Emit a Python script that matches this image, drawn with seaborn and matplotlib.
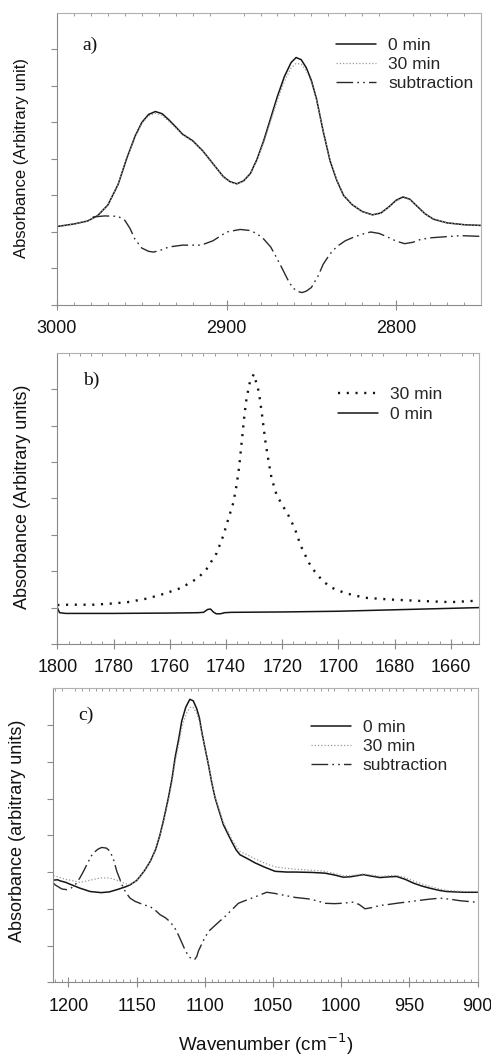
import matplotlib
matplotlib.use("Agg")
import matplotlib.pyplot as plt
from matplotlib.ticker import MultipleLocator
import seaborn as sns

# ---------------- a) C-H stretching region ----------------
wn_a = [3000, 2990, 2982, 2976, 2970, 2964, 2959, 2954, 2950, 2946, 2942, 2938,
        2934, 2930, 2926, 2920, 2914, 2908, 2902, 2898, 2894, 2890, 2886, 2882,
        2878, 2874, 2870, 2866, 2862, 2859, 2856, 2853, 2850, 2847, 2843, 2839,
        2835, 2831, 2826, 2820, 2814, 2809, 2804, 2800, 2796, 2792, 2788, 2783,
        2778, 2770, 2760, 2750]
a_0min = [2.15, 2.22, 2.30, 2.45, 2.74, 3.30, 4.00, 4.62, 5.00, 5.22, 5.30, 5.24,
          5.07, 4.88, 4.68, 4.50, 4.22, 3.87, 3.52, 3.38, 3.32, 3.40, 3.60, 4.00,
          4.52, 5.12, 5.72, 6.25, 6.64, 6.78, 6.72, 6.50, 6.15, 5.65, 4.75, 3.95,
          3.41, 3.00, 2.75, 2.56, 2.47, 2.52, 2.70, 2.87, 2.96, 2.90, 2.72, 2.50,
          2.35, 2.25, 2.20, 2.18]
a_30min = [2.15, 2.22, 2.30, 2.45, 2.74, 3.30, 3.98, 4.59, 4.97, 5.18, 5.25, 5.19,
           5.03, 4.85, 4.66, 4.48, 4.21, 3.86, 3.51, 3.37, 3.31, 3.39, 3.58, 3.97,
           4.47, 5.04, 5.62, 6.12, 6.49, 6.62, 6.60, 6.42, 6.10, 5.62, 4.76, 3.97,
           3.42, 3.01, 2.75, 2.56, 2.47, 2.51, 2.69, 2.85, 2.94, 2.89, 2.71, 2.50,
           2.35, 2.25, 2.20, 2.18]
wn_a_sub = [2979, 2972, 2964, 2960, 2957, 2954, 2950, 2946, 2943, 2939, 2934, 2926,
            2920, 2915, 2908, 2900, 2892, 2886, 2882, 2878, 2874, 2870, 2867, 2864,
            2861, 2858, 2855.5, 2853, 2850, 2846, 2843, 2839, 2835, 2830, 2825, 2820,
            2815, 2810, 2805, 2800, 2795, 2790, 2786, 2780, 2774, 2762, 2750]
a_sub = [2.41, 2.44, 2.43, 2.32, 2.10, 1.80, 1.56, 1.47, 1.45, 1.50, 1.59, 1.64,
         1.64, 1.64, 1.76, 2.00, 2.07, 2.04, 1.95, 1.80, 1.59, 1.25, 0.98, 0.70,
         0.47, 0.37, 0.34, 0.38, 0.48, 0.80, 1.12, 1.40, 1.60, 1.76, 1.86, 1.94,
         2.00, 1.96, 1.86, 1.75, 1.68, 1.72, 1.79, 1.84, 1.86, 1.90, 1.88]

# ---------------- b) carbonyl region ----------------
wn_b30 = [1800, 1796, 1787, 1781, 1775, 1768, 1762, 1756, 1750, 1747, 1743.3, 1741,
          1739.2, 1737.4, 1736.2, 1735.3, 1734.4, 1733.5, 1732.7, 1731.5, 1730.1,
          1728.3, 1727.1, 1725.9, 1724.8, 1723.8, 1722, 1720.2, 1717.9, 1715.5,
          1713.4, 1710.5, 1708.4, 1705.8, 1702.8, 1697.7, 1690.6, 1681, 1670, 1660,
          1653, 1650]
b_30min = [1.07, 1.08, 1.08, 1.11, 1.15, 1.25, 1.38, 1.54, 1.81, 2.05, 2.50, 2.97,
           3.43, 3.88, 4.38, 4.88, 5.56, 6.25, 6.75, 7.20, 7.42,
           6.93, 6.25, 5.52, 5.00, 4.56, 4.10, 3.85, 3.55, 3.17,
           2.70, 2.23, 1.99, 1.75, 1.56, 1.40, 1.27, 1.22, 1.18, 1.15,
           1.18, 1.19]
wn_b0 = [1800, 1799.2, 1797, 1780, 1760, 1750, 1748, 1746.5, 1745.5, 1744.5, 1743.5,
         1742, 1740.5, 1738, 1720, 1700, 1690, 1680, 1670, 1660, 1650]
b_0min = [1.00, 0.86, 0.84, 0.84, 0.85, 0.86, 0.87, 0.95, 0.96, 0.88, 0.83,
          0.83, 0.86, 0.87, 0.88, 0.90, 0.92, 0.94, 0.96, 0.98, 1.00]

# ---------------- c) C-O region ----------------
wn_c = [1211, 1208, 1206, 1202, 1198.8, 1191.4, 1184, 1176, 1170, 1164.5, 1158,
        1154.8, 1150, 1147.5, 1144, 1140, 1136, 1132.8, 1130, 1126.7, 1124, 1121.8,
        1119, 1116.9, 1114, 1111, 1108.5, 1106, 1104, 1102.3, 1100, 1097.4, 1095,
        1092.5, 1089, 1086.4, 1083, 1080.3, 1077, 1074.2, 1068, 1063.2, 1056,
        1048.5, 1040, 1033.9, 1022, 1011.9, 1005, 998.5, 993.6, 987, 983.8, 978,
        971.6, 965, 959.4, 953, 947.2, 941, 935, 928, 922.7, 910, 900]
c_0min = [2.78, 2.79, 2.76, 2.72, 2.67, 2.56, 2.47, 2.44, 2.46, 2.52, 2.60,
          2.65, 2.77, 2.88, 3.05, 3.29, 3.62, 4.02, 4.45, 5.02, 5.55, 6.11,
          6.65, 7.11, 7.48, 7.70, 7.66, 7.45, 7.20, 6.83, 6.40, 5.93, 5.45,
          5.02, 4.60, 4.29, 4.03, 3.83, 3.60, 3.47, 3.35, 3.25, 3.13,
          3.02, 3.00, 3.00, 2.99, 2.97, 2.92, 2.86, 2.87, 2.91, 2.93, 2.89,
          2.85, 2.87, 2.88, 2.80, 2.70, 2.62, 2.56, 2.50, 2.47, 2.45, 2.45]
c_30min = [2.90, 2.87, 2.85, 2.80, 2.78, 2.72, 2.78, 2.84, 2.84, 2.78, 2.68,
           2.66, 2.77, 2.88, 3.05, 3.28, 3.60, 3.98, 4.40, 4.95, 5.45, 5.98,
           6.50, 6.92, 7.28, 7.48, 7.48, 7.32, 7.10, 6.78, 6.38, 5.93, 5.47,
           5.05, 4.65, 4.35, 4.10, 3.90, 3.70, 3.56, 3.45, 3.36, 3.24,
           3.14, 3.10, 3.08, 3.05, 3.02, 2.96, 2.90, 2.90, 2.93, 2.95, 2.92,
           2.88, 2.90, 2.91, 2.85, 2.76, 2.68, 2.61, 2.54, 2.50, 2.47, 2.47]
wn_c_sub = [1211.5, 1209.7, 1204.8, 1201, 1198.8, 1195, 1191.4, 1188.5, 1186.5,
            1183.5, 1181.7, 1178, 1175.5, 1172, 1169.4, 1167, 1164.5, 1162, 1159.7,
            1157, 1154.8, 1151, 1147.5, 1144, 1140.1, 1136, 1132.8, 1129, 1125.5,
            1122, 1119.4, 1116.5, 1114.5, 1112, 1109.6, 1107.5, 1105.9, 1104.7, 1101,
            1097.4, 1091, 1085.2, 1080, 1075.4, 1070, 1065.6, 1060, 1054.6, 1049,
            1043.6, 1033.9, 1024.1, 1018, 1011.9, 1005, 999.7, 991.2, 987, 982.6,
            978, 971.6, 965, 959.4, 944.7, 936, 927.6, 920, 913, 900.7]
c_sub = [2.72, 2.65, 2.54, 2.52, 2.54, 2.65, 2.85, 3.05, 3.20,
         3.42, 3.52, 3.63, 3.67, 3.65, 3.56, 3.35, 3.02, 2.78, 2.56,
         2.40, 2.29, 2.20, 2.15, 2.10, 2.06, 1.95, 1.84, 1.76, 1.65,
         1.48, 1.29, 1.05, 0.88, 0.72, 0.63, 0.62, 0.70, 0.85, 1.14,
         1.38, 1.60, 1.79, 1.98, 2.15, 2.23, 2.29, 2.37, 2.45, 2.42,
         2.38, 2.31, 2.27, 2.22, 2.15, 2.14, 2.15, 2.18, 2.12, 2.00,
         2.03, 2.09, 2.12, 2.15, 2.22, 2.26, 2.29, 2.26, 2.22, 2.18]

xticks_a = [3000, 2900, 2800]
xticks_b = [1800, 1780, 1760, 1740, 1720, 1700, 1680, 1660]
xticks_c = [1200, 1150, 1100, 1050, 1000, 950, 900]

sns.set_style("ticks")
plt.rcParams["font.family"] = ["Liberation Sans", "DejaVu Sans"]
plt.rcParams["lines.scale_dashes"] = True

FRAME = "#8a8a8a"
INK = "#151515"
SOLID = dict(color=INK, linewidth=1.1, linestyle="-")
FAINT_DOT = dict(color="#9a9a9a", linewidth=0.9, linestyle=(0, (1.0, 1.6)))
DASH_DOT_DOT = dict(color="#2a2a2a", linewidth=1.0,
                    linestyle=(0, (12, 3, 1.2, 3, 1.2, 3)))
BOLD_DOT = dict(color=INK, linewidth=1.7, linestyle=(0, (0.9, 2.8)))

fig = plt.figure(figsize=(4.91, 10.55), dpi=100)
ax_a = fig.add_axes([0.1161, 0.7109, 0.8635, 0.2768])
ax_b = fig.add_axes([0.1167, 0.3896, 0.8589, 0.2758])
ax_c = fig.add_axes([0.1073, 0.0689, 0.8656, 0.2787])


def trace(ax, x, y, label, style):
    sns.lineplot(x=x, y=y, ax=ax, label=label, estimator=None, sort=False, **style)


def frame(ax, xlim, xticks, minor_step, ylabel, ylabel_size, ylabel_y, tag, tag_y):
    ax.set_xlim(*xlim)
    ax.set_ylim(0, 8)
    ax.set_xticks(xticks)
    ax.set_xticklabels([str(t) for t in xticks])
    ax.xaxis.set_minor_locator(MultipleLocator(minor_step))
    ax.set_yticks(range(0, 8))
    for side in ("left", "right", "top", "bottom"):
        ax.spines[side].set_visible(True)
        ax.spines[side].set_color(FRAME)
        ax.spines[side].set_linewidth(0.8)
    ax.spines["top"].set_color("#b0b0b0")
    ax.spines["right"].set_color("#b0b0b0")
    ax.tick_params(axis="y", which="major", direction="out", length=4,
                   color=FRAME, width=0.8, labelleft=False)
    ax.tick_params(axis="x", which="major", direction="inout", length=7,
                   color=FRAME, width=0.8, labelsize=13, pad=7.5,
                   labelcolor="#111111")
    ax.tick_params(axis="x", which="minor", direction="in", length=2.5,
                   color=FRAME, width=0.6, top=True, bottom=True)
    ax.set_xlabel("")
    ax.set_ylabel(ylabel, fontsize=ylabel_size, color="#111111", va="center")
    ax.yaxis.set_label_coords(-0.083, ylabel_y)
    ax.text(0.06, tag_y, tag, transform=ax.transAxes, fontsize=14,
            family="Liberation Serif", va="center", ha="left", color="#111111")


# a)
trace(ax_a, wn_a, a_0min, "0 min", SOLID)
trace(ax_a, wn_a, a_30min, "30 min", FAINT_DOT)
trace(ax_a, wn_a_sub, a_sub, "subtraction", DASH_DOT_DOT)
frame(ax_a, (3000, 2750), xticks_a, 10, "Absorbance (Arbitrary unit)", 12,
      0.503, "a)", 0.89)
ax_a.legend(loc="upper right", bbox_to_anchor=(0.982, 0.915), frameon=False,
            fontsize=12.5, handlelength=2.3, handletextpad=0.7, labelspacing=0.22,
            borderaxespad=0, borderpad=0)

# b)
trace(ax_b, wn_b30, b_30min, "30 min", BOLD_DOT)
trace(ax_b, wn_b0, b_0min, "0 min", SOLID)
frame(ax_b, (1800, 1650), xticks_b, 4, "Absorbance (Arbitrary units)", 13,
      0.505, "b)", 0.907)
ax_b.legend(loc="upper right", bbox_to_anchor=(0.912, 0.885), frameon=False,
            fontsize=12.5, handlelength=2.3, handletextpad=0.7, labelspacing=0.3,
            borderaxespad=0, borderpad=0)

# c)
trace(ax_c, wn_c, c_0min, "0 min", SOLID)
trace(ax_c, wn_c, c_30min, "30 min", FAINT_DOT)
trace(ax_c, wn_c_sub, c_sub, "subtraction", DASH_DOT_DOT)
frame(ax_c, (1211.5, 900), xticks_c, 5, "Absorbance (arbitrary units)", 13,
      0.515, "c)", 0.909)
ax_c.legend(loc="upper right", bbox_to_anchor=(0.93, 0.893), frameon=False,
            fontsize=12.5, handlelength=2.3, handletextpad=0.7, labelspacing=0.22,
            borderaxespad=0, borderpad=0)
ax_c.set_xlabel("Wavenumber (cm$^{-1}$)", fontsize=13.5, color="#111111",
                va="center")
ax_c.xaxis.set_label_coords(0.5, -0.21)

fig.savefig("out.png", dpi=100)
